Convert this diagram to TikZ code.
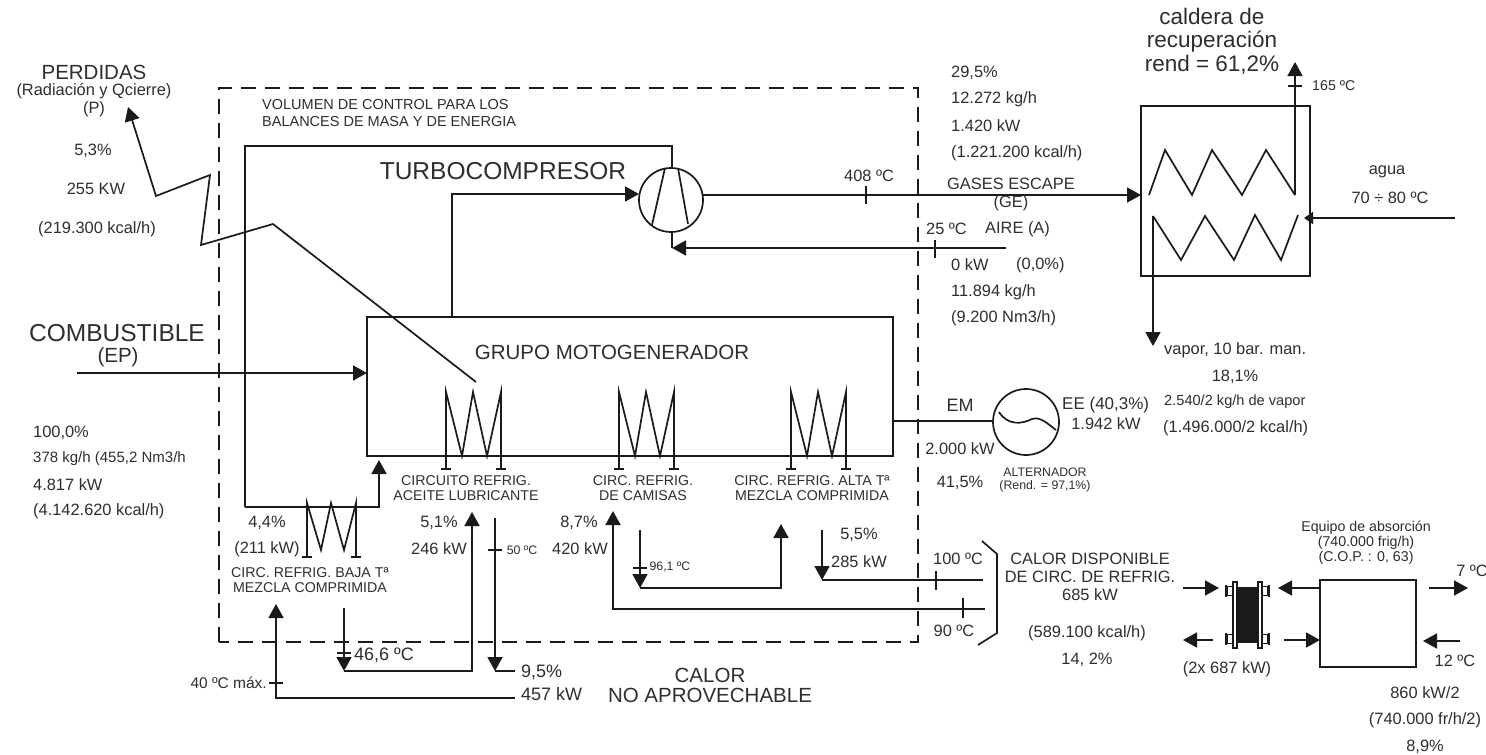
\documentclass[tikz,border=0pt]{standalone}
\usepackage{fontspec}
\setmainfont{Liberation Sans}
\usetikzlibrary{arrows.meta,positioning}
\definecolor{ink}{HTML}{1A1A1A}
\definecolor{txt}{HTML}{2E2E2E}
\tikzset{
  lin/.style={draw=ink,line width=1.7pt,line join=miter},
  ar/.style={lin,-{Triangle[length=14pt,width=15pt]}},
  eqp/.style={lin,anchor=north west,inner sep=0pt,outer sep=0pt},
  lbl/.style={text=txt,inner sep=0pt,align=center,font=\fontsize{16.4}{18}\selectfont},
  lbs/.style={lbl,font=\fontsize{12.3}{13.5}\selectfont},
  lbc/.style={lbl,font=\fontsize{14.2}{15}\selectfont},
  lbx/.style={lbl,font=\fontsize{18}{20}\selectfont},
  lbh/.style={lbl,font=\fontsize{20.5}{20}\selectfont},
  lbg/.style={lbl,font=\fontsize{24.5}{24}\selectfont},
}
\begin{document}
\begin{tikzpicture}[x=1pt,y=-1pt]
\useasboundingbox[fill=white] (0,0) rectangle (1486,755);
% control volume
\draw[lin,dash pattern=on 15pt off 9pt] (219,642) -- (219,88) -- (918,88) -- (918,642) -- cycle;
% equipment
\node[eqp,minimum width=526pt,minimum height=139pt] (grupo) at (367,317) {};
\node[lin,circle,minimum size=64pt,inner sep=0pt,outer sep=0pt] (comp) at (671,200) {};
\node[lin,circle,minimum size=66pt,inner sep=0pt,outer sep=0pt] (alt) at (1026,422) {};
\node[eqp,minimum width=169pt,minimum height=170pt] (cald) at (1141,106) {};
\node[eqp,minimum width=96pt,minimum height=87pt] (abso) at (1320,580) {};
\draw[lin] (652,225) -- (665,168) (678,168) -- (688,224);
\draw[lin] (999,412) .. controls (1008,426) and (1022,424) .. (1032,419) .. controls (1040,416) and (1048,424) .. (1056,430);
% coils
\foreach \cx in {446,619,791}{
  \draw[lin] (\cx,469) -- (\cx,392) -- ++(16,64) -- ++(11,-64) -- ++(14,64) -- ++(14,-64) -- (\cx+55,469);
  \draw[lin] (\cx-5,469) -- (\cx+5,469) (\cx+50,469) -- (\cx+60,469);
}
\draw[lin] (307,557) -- (307,503) -- (321,550) -- (331,503) -- (344,550) -- (356,503) -- (356,557);
\draw[lin] (302,557) -- (312,557) (351,557) -- (361,557);
\draw[lin] (1149,195) -- (1165,150) -- (1192,195) -- (1212,150) -- (1242,195) -- (1266,150) -- (1295,195);
\draw[lin] (1298,215) -- (1281,260) -- (1255,215) -- (1234,260) -- (1205,216) -- (1181,260) -- (1153,216);
% free ends
\coordinate (fuel) at (77,373);
\coordinate (perd) at (128,107);
\coordinate (perdA) at (156,196);
\coordinate (perdB) at (210,175);
\coordinate (perdC) at (201,245);
\coordinate (perdD) at (273,224);
\coordinate (perdE) at (476,382);
\coordinate (bajaA) at (245,507);
\coordinate (bajaB) at (379,507);
\coordinate (bajaC) at (379,460);
\coordinate (turbA) at (245,146);
\coordinate (turbB) at (672,146);
\coordinate (riseA) at (452,194);
\coordinate (gasA) at (703,195);
\coordinate (aire) at (1006,248);
\coordinate (aireT) at (672,248);
\coordinate (humo) at (1295,62);
\coordinate (humoB) at (1295,195);
\coordinate (aguaA) at (1455,218);
\coordinate (aguaB) at (1304,218);
\coordinate (vapA) at (1153,216);
\coordinate (vapB) at (1153,346);
\coordinate (emA) at (893,421);
% main flows
\draw[ar] (fuel) -- (fuel -| grupo.west);
\draw[ar] (perdE) -- (perdD) -- (perdC) -- (perdB) -- (perdA) -- (perd);
\draw[lin] (comp.north -| turbB) -- (turbB) -- (turbA) -- (bajaA);
\draw[ar] (bajaA) -- (bajaB) -- (bajaC);
\draw[ar] (grupo.north -| riseA) -- (riseA) -- (riseA -| comp.west);
\draw[ar] (gasA) -- (gasA -| cald.west);
\draw[lin] (comp.south -| aireT) -- (aireT);
\draw[ar] (aire) -- (aireT);
\draw[ar] (humoB) -- (humo);
\draw[ar,-{Triangle[length=9pt,width=12pt]}] (aguaA) -- (aguaB);
\draw[ar] (vapA) -- (vapB);
\draw[lin] (emA) -- (alt.west |- emA);
% cooling flows
\coordinate (lubA) at (344,608);
\coordinate (lubB) at (344,671);
\coordinate (lubC) at (472,671);
\coordinate (lubD) at (472,512);
\coordinate (retA) at (495,518);
\coordinate (retB) at (495,671);
\coordinate (retC) at (515,671);
\coordinate (frA) at (276,604);
\coordinate (frB) at (276,698);
\coordinate (frC) at (515,698);
\coordinate (camA) at (613,511);
\coordinate (camB) at (613,609);
\coordinate (camC) at (985,609);
\coordinate (altA) at (640,530);
\coordinate (altB) at (640,588);
\coordinate (altC) at (781,588);
\coordinate (altD) at (781,524);
\coordinate (supA) at (822,530);
\coordinate (supB) at (822,580);
\coordinate (supC) at (983,580);
\draw[ar] (lubA) -- (lubB);
\draw[ar] (lubB) -- (lubC) -- (lubD);
\draw[ar] (retA) -- (retB);
\draw[lin] (retB) -- (retC);
\draw[ar] (frC) -- (frB) -- (frA);
\draw[ar] (camC) -- (camB) -- (camA);
\draw[ar] (altA) -- (altB);
\draw[ar] (altB) -- (altC) -- (altD);
\draw[ar] (supA) -- (supB);
\draw[lin] (supB) -- (supC);
% ticks
\foreach \tx/\ta/\tb in {866/186/204,935/240/258,936/571/590,963/598/618}{
  \draw[lin] (\tx,\ta) -- (\tx,\tb);
}
\foreach \tx/\ty in {344/653,495/550,276/683,640/568,1295/86}{
  \draw[lin] (\tx-7,\ty) -- (\tx+7,\ty);
}
\draw[lin] (982,541) -- (997,554) -- (997,633) -- (978,645);
% exchanger
\fill[ink] (1238,587) rectangle (1257,643);
\foreach \px in {1233,1258}{
  \draw[lin,line width=1.4pt] (\px,582) rectangle (\px+4,648);
}
\foreach \py in {591,639}{
  \draw[lin,line width=1.3pt] (1227,\py-4.5) rectangle (1233,\py+4.5);
  \draw[lin,line width=1.3pt] (1262,\py-4.5) rectangle (1268,\py+4.5);
  \draw[lin,line width=2.6pt] (1226,\py-6) -- (1226,\py+6) (1269,\py-6) -- (1269,\py+6);
}
\coordinate (hxA) at (1183,588);
\coordinate (hxB) at (1219,588);
\coordinate (hxC) at (1213,640);
\coordinate (hxD) at (1183,640);
\coordinate (hxE) at (1278,588);
\coordinate (hxF) at (1284,640);
\coordinate (frioA) at (1429,588);
\coordinate (frioB) at (1468,588);
\coordinate (frioC) at (1460,641);
\coordinate (frioD) at (1423,641);
\draw[ar] (hxA) -- (hxB);
\draw[ar] (hxC) -- (hxD);
\draw[ar] (hxE -| abso.west) -- (hxE);
\draw[ar] (hxF) -- (hxF -| abso.west);
\draw[ar] (frioA) -- (frioB);
\draw[ar] (frioC) -- (frioD);
% labels
\node[lbh] (tPerd) at (94,72) {PERDIDAS};
\node[lbl] (tRad) at (94,91) {(Radiación y Qcierre)};
\node[lbl] (tP) at (94,109) {(P)};
\node[lbl] (tPa) at (93,151) {5,3\%};
\node[lbl] (tPb) at (96,189) {255 KW};
\node[lbl] (tPc) at (97,229) {(219.300 kcal/h)};
\node[lbg] (tFuel) at (117,333) {COMBUSTIBLE};
\node[lbh] (tEp) at (118,357) {(EP)};
\node[lbl,anchor=west] (tFa) at (33,433) {100,0\%};
\node[lbl,anchor=west,font=\fontsize{15}{18}\selectfont] (tFb) at (33,459) {378 kg/h (455,2 Nm3/h};
\node[lbl,anchor=west] (tFc) at (33,485) {4.817 kW};
\node[lbl,anchor=west] (tFd) at (33,511) {(4.142.620 kcal/h)};
\node[lbc,anchor=west,align=left,font=\fontsize{14.5}{17}\selectfont] (tVol) at (262,113) {VOLUMEN DE CONTROL PARA LOS\\BALANCES DE MASA Y DE ENERGIA};
\node[lbg] (tTurbo) at (503,171) {TURBOCOMPRESOR};
\node[lbh] (tGrupo) at (612,352) {GRUPO MOTOGENERADOR};
\node[lbc] (tAce) at (466,488) {CIRCUITO REFRIG.\\ACEITE LUBRICANTE};
\node[lbc] (tCam) at (643,488) {CIRC. REFRIG.\\DE CAMISAS};
\node[lbc] (tAlta) at (812,488) {CIRC. REFRIG. ALTA Tª\\MEZCLA COMPRIMIDA};
\node[lbc] (tBaja) at (310,580) {CIRC. REFRIG. BAJA Tª\\MEZCLA COMPRIMIDA};
\node[lbl] (tBa) at (267,523) {4,4\%};
\node[lbl] (tBb) at (267,549) {(211 kW)};
\node[lbl] (tLa) at (439,523) {5,1\%};
\node[lbl] (tLb) at (439,549) {246 kW};
\node[lbl] (tCa) at (579,523) {8,7\%};
\node[lbl] (tCb) at (580,549) {420 kW};
\node[lbs] (tT50) at (522,550) {50 ºC};
\node[lbs] (tT96) at (670,567) {96,1 ºC};
\node[lbx] (tT46) at (384,655) {46,6 ºC};
\node[lbx,anchor=west] (tRa) at (521,672) {9,5\%};
\node[lbx,anchor=west] (tRb) at (521,694) {457 kW};
\node[lbl,font=\fontsize{15.5}{17}\selectfont,anchor=east] (tT40) at (267,683) {40 ºC máx.};
\node[lbh] (tNo) at (710,685) {CALOR\\NO APROVECHABLE};
\node[lbl] (tSa) at (859,535) {5,5\%};
\node[lbl] (tSb) at (859,562) {285 kW};
\node[lbl] (tT100) at (958,559) {100 ºC};
\node[lbl] (tT90) at (954,631) {90 ºC};
\node[lbx] (tEm) at (960,405) {EM};
\node[lbl] (tKw) at (960,449) {2.000 kW};
\node[lbl] (tEf) at (960,483) {41,5\%};
\node[lbs] (tAlt) at (1045,480) {ALTERNADOR\\(Rend. = 97,1\%)};
\node[lbl,anchor=west,font=\fontsize{17}{18}\selectfont] (tEe) at (1062,405) {EE (40,3\%)};
\node[lbl] (tEeb) at (1106,424) {1.942 kW};
\node[lbl] (tDisp) at (1090,577) {CALOR DISPONIBLE\\DE CIRC. DE REFRIG.\\685 kW};
\node[lbl] (tDa) at (1087,633) {(589.100 kcal/h)};
\node[lbl] (tDb) at (1087,660) {14, 2\%};
\node[lbl,anchor=west] (tGa) at (951,73) {29,5\%};
\node[lbl,anchor=west] (tGb) at (951,99) {12.272 kg/h};
\node[lbl,anchor=west] (tGc) at (951,126) {1.420 kW};
\node[lbl,anchor=west] (tGd) at (951,153) {(1.221.200 kcal/h)};
\node[lbl] (tT408) at (869,176) {408 ºC};
\node[lbl,align=center] (tGas) at (1011,194) {GASES ESCAPE\\(GE)};
\node[lbl,anchor=west] (tT25) at (926,229) {25 ºC};
\node[lbl,anchor=west] (tAire) at (985,229) {AIRE (A)};
\node[lbl,anchor=west] (tAa) at (951,265) {0 kW};
\node[lbl,anchor=west] (tAb) at (1016,265) {(0,0\%)};
\node[lbl,anchor=west] (tAc) at (951,292) {11.894 kg/h};
\node[lbl,anchor=west] (tAd) at (951,318) {(9.200 Nm3/h)};
\node[lbl,font=\fontsize{22.5}{23.5}\selectfont] (tCald) at (1212,41) {caldera de\\recuperación\\rend = 61,2\%};
\node[lbc,anchor=west] (tT165) at (1312,86) {165 ºC};
\node[lbl] (tAgua) at (1387,172) {agua};
\node[lbl] (tT70) at (1390,198) {70 ÷ 80 ºC};
\node[lbl,anchor=west] (tVa) at (1164,350) {vapor, 10 bar. man.};
\node[lbl] (tVb) at (1235,377) {18,1\%};
\node[lbc,font=\fontsize{14.6}{15}\selectfont,anchor=west] (tVc) at (1164,402) {2.540/2 kg/h de vapor};
\node[lbl,anchor=west] (tVd) at (1163,428) {(1.496.000/2 kcal/h)};
\node[lbc] (tEq) at (1366,543) {Equipo de absorción\\(740.000 frig/h)\\(C.O.P. : 0, 63)};
\node[lbl] (tHx) at (1227,669) {(2x 687 kW)};
\node[lbl] (tT7) at (1472,571) {7 ºC};
\node[lbl] (tT12) at (1455,661) {12 ºC};
\node[lbl] (tFa2) at (1425,693) {860 kW/2};
\node[lbl] (tFb2) at (1425,720) {(740.000 fr/h/2)};
\node[lbl] (tFc2) at (1425,747) {8,9\%};
\end{tikzpicture}
\end{document}
